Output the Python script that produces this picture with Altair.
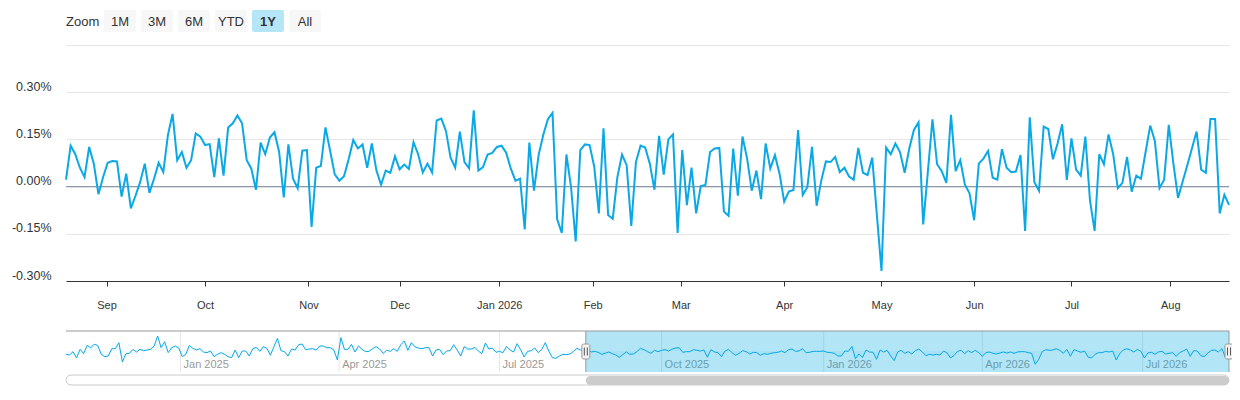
import altair as alt
import numpy as np
import pandas as pd

# ---------------- data ----------------
# daily change in % (trading days, 19 Aug 2025 - 19 Aug 2026)
values = [
    0.022, 0.13, 0.103, 0.06, 0.03, 0.126, 0.073, -0.024, 0.03, 0.076,
    0.081, 0.08, -0.032, 0.041, -0.069, -0.029, 0.014, 0.073, -0.02, 0.025,
    0.076, 0.046, 0.164, 0.231, 0.084, 0.11, 0.06, 0.084, 0.169, 0.159,
    0.132, 0.135, 0.03, 0.153, 0.035, 0.188, 0.201, 0.226, 0.201, 0.084,
    0.057, -0.01, 0.14, 0.103, 0.156, 0.173, 0.11, -0.034, 0.134, 0.025,
    -0.005, 0.114, 0.116, -0.128, 0.06, 0.066, 0.188, 0.114, 0.039, 0.019,
    0.033, 0.087, 0.148, 0.121, 0.134, 0.06, 0.137, 0.051, 0.006, 0.051,
    0.044, 0.096, 0.055, 0.07, 0.056, 0.141, 0.103, 0.045, 0.073, 0.045,
    0.21, 0.216, 0.177, 0.092, 0.06, 0.175, 0.078, 0.058, 0.242, 0.051,
    0.062, 0.102, 0.107, 0.126, 0.13, 0.108, 0.057, 0.019, 0.025, -0.136,
    0.14, -0.013, 0.1, 0.164, 0.214, 0.234, -0.104, -0.147, 0.102, -0.002,
    -0.174, 0.116, 0.134, 0.132, 0.064, -0.085, 0.185, -0.09, -0.102, 0.03,
    0.102, 0.068, -0.125, 0.078, 0.13, 0.124, 0.073, -0.01, 0.161, 0.038,
    0.15, 0.166, -0.147, 0.116, -0.059, 0.06, -0.085, 0.002, 0.005, 0.11,
    0.121, 0.123, -0.079, -0.093, 0.121, -0.029, 0.159, 0.089, -0.013, 0.051,
    -0.04, 0.137, 0.057, 0.1, 0.041, -0.048, -0.016, -0.011, 0.18, -0.027,
    -0.002, 0.126, -0.061, 0.019, 0.08, 0.078, 0.094, 0.046, 0.06, 0.032,
    0.022, 0.123, 0.044, 0.037, 0.092, -0.09, -0.268, 0.124, 0.103, 0.137,
    0.11, 0.044, 0.121, 0.18, 0.204, -0.12, 0.046, 0.214, 0.071, 0.049,
    0.012, 0.228, 0.049, 0.084, 0.006, -0.021, -0.107, 0.073, 0.089, 0.113,
    0.028, 0.022, 0.119, 0.06, 0.046, 0.048, 0.1, -0.141, 0.22, 0.014,
    -0.013, 0.191, 0.183, 0.087, 0.137, 0.198, 0.021, 0.153, 0.054, 0.035,
    0.159, -0.045, -0.141, 0.103, 0.071, 0.166, 0.103, -0.005, 0.012, 0.094,
    -0.016, 0.035, 0.025, 0.11, 0.194, 0.145, -0.005, 0.022, 0.196, 0.073,
    -0.036, 0.016, 0.068, 0.121, 0.175, 0.054, 0.044, 0.215, 0.215, -0.085,
    -0.026, -0.058,
]
start_date = "2025-08-19"
end_date = "2026-08-19"
holidays = ["2025-09-01", "2025-11-27", "2025-12-25", "2026-01-01", "2026-01-19",
            "2026-02-16", "2026-04-03", "2026-05-25", "2026-06-19", "2026-07-03"]

# navigator series (every 2 calendar days from 28 Oct 2024)
nav_start = "2024-10-28"
nav_values = [
    -0.05, -0.06, -0.01, -0.105, 0.025, -0.04, 0.085, 0.05, 0.1, 0.085,
    -0.05, -0.085, -0.075, 0.035, 0.035, 0.125, -0.165, -0.04, -0.035, 0.025,
    -0.015, 0.025, 0.005, 0.015, 0.025, 0.075, 0.225, 0.05, 0.14, -0.025,
    0.05, 0.075, 0.045, -0.085, -0.05, 0.085, 0.04, 0.015, 0.035, -0.015,
    -0.025, 0.0, -0.085, -0.05, -0.025, -0.05, -0.085, -0.1, 0.015, -0.1,
    0.0, 0.0, -0.075, 0.035, 0.055, -0.005, 0.065, 0.04, -0.065, 0.065,
    0.19, 0.005, -0.01, -0.075, 0.03, 0.015, 0.095, 0.105, 0.02, 0.03,
    0.035, 0.015, 0.075, 0.075, 0.05, 0.05, 0.015, -0.135, 0.2, 0.025,
    0.025, 0.1, -0.015, 0.075,
    0.025, -0.01, -0.005, 0.035, 0.065, 0.03, -0.035, 0.01, -0.005, 0.035,
    -0.005, 0.095, 0.15, 0.01, 0.125, 0.065, 0.045, 0.035, 0.05, 0.05,
    -0.075, 0.015, 0.025, -0.055, 0.0, 0.005, 0.095, 0.015, -0.075, 0.065,
    0.03, 0.03, 0.055, 0.0, -0.04, 0.12, 0.03, 0.045, -0.02, -0.005,
    -0.025, 0.07, 0.015, -0.015, 0.11, 0.02, -0.09, -0.005, 0.005, 0.045,
    -0.025, 0.025, 0.125, 0.0, -0.1, -0.11, -0.075, -0.05, -0.055, -0.045,
    -0.005, 0.04, 0.015, 0.02, 0.025, -0.015, -0.005, -0.02, -0.05, -0.035,
    -0.015, -0.04, -0.06, -0.095, -0.055, -0.015, -0.05, -0.045, -0.01, 0.04,
    0.02, -0.01, -0.035, 0.01,
    -0.01, 0.01, 0.02, 0.0, 0.03, 0.045, 0.05, -0.02, -0.01, -0.01,
    0.02, 0.01, 0.0, 0.015, -0.095, 0.02, -0.015, -0.025, -0.085, 0.0,
    0.025, -0.025, -0.065, -0.035, 0.005, -0.01, -0.045, -0.02, -0.025, -0.065,
    -0.04, -0.05, -0.035, -0.025, -0.02, 0.0, -0.025, 0.02, 0.03, -0.005,
    0.0, 0.035, -0.025, -0.02, -0.005, -0.005, -0.005, 0.0, -0.02, -0.025,
    -0.035, -0.075, -0.075, 0.0, -0.005, 0.07, -0.115, -0.045, -0.1, 0.015,
    -0.015, -0.02, -0.125, 0.015, -0.015, 0.01, -0.075, -0.145, -0.015, 0.01,
    -0.035, -0.01, -0.045, 0.005, 0.03, -0.015, -0.07, -0.05, -0.06, -0.05,
    -0.06, 0.0, -0.03,
    -0.105, -0.065, -0.005, 0.01, -0.04, 0.005, -0.025, 0.01, -0.025, -0.08,
    -0.025, -0.015, -0.035, -0.045, -0.03, -0.015, -0.03, -0.015, -0.035, -0.015,
    -0.01, -0.01, -0.025, -0.035, -0.2, -0.125, -0.01, 0.02, 0.01, 0.015,
    0.035, 0.01, -0.035, 0.025, -0.08, 0.02, 0.0, -0.02, 0.0, -0.09,
    -0.105, -0.05, -0.025, -0.025, -0.005, -0.015, 0.0, -0.135, -0.04, 0.015,
    0.035, 0.015, -0.015, 0.025, -0.005, -0.105, -0.03, -0.02, -0.05, -0.015,
    -0.005, -0.045, -0.035, -0.025, -0.08, -0.025, 0.0, 0.03, -0.08, 0.005,
    0.0, -0.07, -0.085, -0.03, 0.01, 0.015, -0.015, 0.035, -0.1, 0.015,
]
nav_ticks = ["2025-01-01", "2025-04-01", "2025-07-01", "2025-10-01",
             "2026-01-01", "2026-04-01", "2026-07-01"]
sel_start, sel_end = "2025-08-19", "2026-08-19"

buttons = ["1M", "3M", "6M", "YTD", "1Y", "All"]
selected_button = "1Y"
y_ticks = [-0.30, -0.15, 0.0, 0.15, 0.30, 0.45]

# ---------------- style ----------------
LINE = "#0ba8e6"
FONT = "Liberation Sans"
W, H = 1163, 236
NAV_TOP, NAV_BOT = 286, 327

# ---------------- main series ----------------
dates = pd.bdate_range(start_date, end_date, freq="C", holidays=holidays)[: len(values)]
main_df = pd.DataFrame({"i": np.arange(len(values)), "date": dates.strftime("%Y-%m-%d"), "v": values})

day_num = (dates - pd.Timestamp(start_date)).days.values
months = pd.date_range("2025-09-01", end_date, freq="MS")
tick_pos = [float(np.interp((m - pd.Timestamp(start_date)).days, day_num, np.arange(len(dates))))
            for m in months]
tick_lab = [m.strftime("%b %Y") if m.month == 1 else m.strftime("%b") for m in months]


def ternary(pos, labs):
    expr = f"'{labs[-1]}'"
    for k in range(len(pos) - 2, -1, -1):
        mid = (pos[k] + pos[k + 1]) / 2
        expr = f"datum.value < {mid:.3f} ? '{labs[k]}' : ({expr})"
    return expr


x_main = alt.X(
    "i:Q",
    scale=alt.Scale(domain=[0, len(values) - 1], nice=False, zero=False),
    axis=alt.Axis(values=tick_pos, labelExpr=ternary(tick_pos, tick_lab), title=None,
                  grid=False, domainColor="#333333", tickColor="#333333", tickSize=5,
                  labelColor="#333333", labelFontSize=11, labelPadding=13,
                  labelFlush=False, labelOverlap=False),
)
y_scale = alt.Scale(domain=[-0.30, 0.45], nice=False, zero=False)
y_axis = alt.Axis(values=y_ticks, title=None, grid=True, gridColor="#e6e6e6",
                  domain=False, ticks=False, labelPadding=15, labelFontSize=12.5,
                  labelColor="#333333", labelBaseline="alphabetic", labelOffset=-2,
                  labelExpr="datum.value > 0.4 ? '' : (datum.value < 0 ? '-' : '') + format(abs(datum.value), '.2f') + '%'")

main_line = alt.Chart(main_df).mark_line(color=LINE, strokeWidth=2).encode(
    x=x_main, y=alt.Y("v:Q", scale=y_scale, axis=y_axis))
zero_rule = alt.Chart(pd.DataFrame({"v": [0.0]})).mark_rule(color="#8190a5", strokeWidth=1).encode(
    y=alt.Y("v:Q", scale=y_scale, axis=y_axis))
main = alt.layer(zero_rule, main_line)

# ---------------- navigator ----------------
nav_dates = pd.date_range(nav_start, periods=len(nav_values), freq="2D").strftime("%Y-%m-%d")
nav_df = pd.DataFrame({"date": nav_dates, "nv": nav_values})
nav_scale = alt.Scale(type="utc", nice=False,
                      domain=[alt.DateTime(year=2024, month=10, date=28, utc=True),
                              alt.DateTime(year=2026, month=8, date=19, utc=True)])


def nx(field):
    return alt.X(f"{field}:T", scale=nav_scale, axis=None)


ny = alt.Y("nv:Q", scale=alt.Scale(domain=[-0.315, 0.30], range=[NAV_BOT, NAV_TOP], nice=False, zero=False),
           axis=None)

tick_df = pd.DataFrame({"d": nav_ticks,
                        "label": [pd.Timestamp(t).strftime("%b %Y") for t in nav_ticks]})
sel_df = pd.DataFrame({"s": [sel_start], "e": [sel_end]})
edge_df = pd.DataFrame({"d": [sel_start, sel_end]})
one = pd.DataFrame({"a": [0]})

nav_area = alt.Chart(nav_df).mark_area(color=LINE, opacity=0.06).encode(
    x=nx("date"), y=ny, y2=alt.value(NAV_BOT))
nav_grid = alt.Chart(tick_df).mark_rule(color="#e6e6e6").encode(
    x=nx("d"), y=alt.value(NAV_TOP), y2=alt.value(NAV_BOT))
nav_lab = alt.Chart(tick_df).mark_text(align="left", dx=3, baseline="alphabetic", fontSize=11,
                                       color="#999999").encode(
    x=nx("d"), y=alt.value(NAV_BOT - 4), text="label:N")
nav_line = alt.Chart(nav_df).mark_line(color=LINE, strokeWidth=1).encode(x=nx("date"), y=ny)
nav_mask = alt.Chart(sel_df).mark_rect(color="#00a9e0", opacity=0.3).encode(
    x=nx("s"), x2="e:T", y=alt.value(NAV_TOP), y2=alt.value(NAV_BOT))
nav_outline = alt.Chart(one).mark_rule(color="#999999").encode(
    x=alt.value(0), x2=alt.value(W), y=alt.value(NAV_TOP))
nav_edges = alt.Chart(edge_df).mark_rule(color="#999999").encode(
    x=nx("d"), y=alt.value(NAV_TOP), y2=alt.value(NAV_BOT))
nav_handles = alt.Chart(edge_df).mark_rect(fill="#f2f2f2", stroke="#999999", strokeWidth=1,
                                           cornerRadius=2, xOffset=-4, x2Offset=4).encode(
    x=nx("d"), x2="d:T", y=alt.value(299), y2=alt.value(314))
nav_grip1 = alt.Chart(edge_df).mark_rule(color="#555555", xOffset=-1.5).encode(
    x=nx("d"), y=alt.value(302.5), y2=alt.value(310.5))
nav_grip2 = alt.Chart(edge_df).mark_rule(color="#555555", xOffset=1.5).encode(
    x=nx("d"), y=alt.value(302.5), y2=alt.value(310.5))
scroll_track = alt.Chart(one).mark_rect(fill="white", stroke="#cccccc", strokeWidth=1,
                                        cornerRadius=5).encode(
    x=alt.value(0), x2=alt.value(W), y=alt.value(330), y2=alt.value(340))
scroll_thumb = alt.Chart(sel_df).mark_rect(fill="#cccccc", cornerRadius=4.5).encode(
    x=nx("s"), x2="e:T", y=alt.value(331), y2=alt.value(340))

nav = alt.layer(nav_area, nav_grid, nav_lab, nav_line, nav_mask, nav_outline, nav_edges,
                nav_handles, nav_grip1, nav_grip2, scroll_track, scroll_thumb)

# ---------------- range selector buttons ----------------
btn_df = pd.DataFrame({"label": buttons, "k": list(range(len(buttons)))})
btn_base = alt.Chart(btn_df).transform_calculate(
    cx="54 + 37 * datum.k", x1="datum.cx - 16", x2="datum.cx + 16",
    fill=f"datum.label == '{selected_button}' ? '#b5e6f8' : '#f7f7f7'")
btn_rect = btn_base.mark_rect(cornerRadius=2).encode(
    x=alt.X("x1:Q", scale=None), x2="x2:Q", y=alt.value(-35), y2=alt.value(-13),
    color=alt.Color("fill:N", scale=None))
btn_text = btn_base.transform_filter(alt.datum.label != selected_button).mark_text(
    fontSize=13, color="#333333", baseline="middle").encode(
    x=alt.X("cx:Q", scale=None), y=alt.value(-23.5), text="label:N")
btn_text_sel = btn_base.transform_filter(alt.datum.label == selected_button).mark_text(
    fontSize=13, color="#333333", baseline="middle", fontWeight="bold").encode(
    x=alt.X("cx:Q", scale=None), y=alt.value(-23.5), text="label:N")
zoom_text = alt.Chart(pd.DataFrame({"t": ["Zoom"]})).mark_text(
    align="left", baseline="middle", fontSize=13, color="#333333").encode(
    x=alt.value(0), y=alt.value(-23.5), text="t:N")
deco = alt.layer(btn_rect, btn_text, btn_text_sel, zoom_text)

chart = (
    alt.layer(main, nav, deco)
    .resolve_scale(x="independent", y="independent")
    .properties(width=W, height=H, background="white",
                padding={"left": 58, "top": 37, "right": 3, "bottom": 110},
                autosize=alt.AutoSizeParams(type="none"))
    .configure(font=FONT)
    .configure_view(stroke=None)
)

chart.save("out.html", embed_options={"renderer": "svg", "actions": False})
